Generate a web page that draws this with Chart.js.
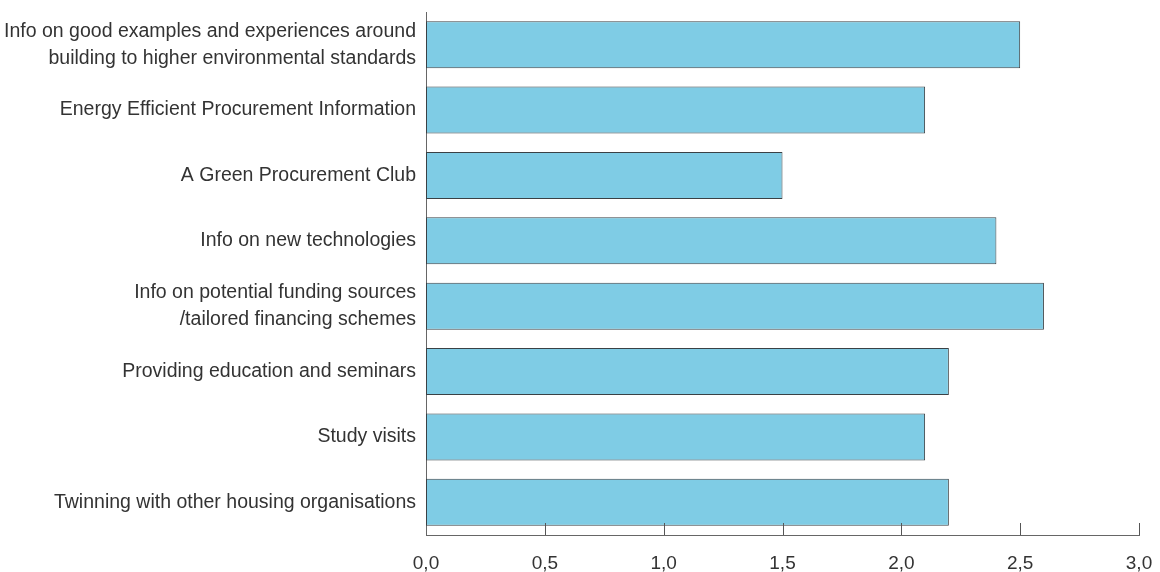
<!DOCTYPE html>
<html lang="en">
<head>
    <meta charset="UTF-8">
    <title>Support measures</title>
    <script src="https://cdn.jsdelivr.net/npm/chart.js@4.4.1/dist/chart.umd.min.js"></script>
    <style>
        html, body { margin: 0; padding: 0; background: #fff; }
        #wrap { width: 1160px; height: 572px; }
    </style>
</head>
<body>
<div id="wrap">
    <canvas id="bars"></canvas>
</div>
<script>
    // data
    var categories = [
        ["Info on good examples and experiences around", "building to higher environmental standards"],
        "Energy Efficient Procurement Information",
        "A Green Procurement Club",
        "Info on new technologies",
        ["Info on potential funding sources", "/tailored financing schemes"],
        "Providing education and seminars",
        "Study visits",
        "Twinning with other housing organisations"
    ];
    var scores = [2.5, 2.1, 1.5, 2.4, 2.6, 2.2, 2.1, 2.2];
    var xTicks = [0, 0.5, 1, 1.5, 2, 2.5, 3];

    // tick marks pointing up into the plot, like the original
    var innerTicks = {
        id: 'innerTicks',
        afterDraw: function(chart) {
            var ctx = chart.ctx;
            var x = chart.scales.x;
            var bottom = chart.chartArea.bottom;
            ctx.save();
            ctx.strokeStyle = '#555';
            ctx.lineWidth = 1;
            xTicks.forEach(function(v) {
                if (v === 0) return;
                var px = Math.round(x.getPixelForValue(v)) + 0.5;
                ctx.beginPath();
                ctx.moveTo(px, bottom);
                ctx.lineTo(px, bottom - 12);
                ctx.stroke();
            });
            ctx.restore();
        }
    };

    var ctx = document.getElementById('bars').getContext('2d');
    new Chart(ctx, {
        type: 'bar',
        data: {
            labels: categories,
            datasets: [{
                data: scores,
                backgroundColor: '#7fcce5',
                borderColor: '#3a4145',
                borderWidth: 1,
                borderSkipped: false,
                categoryPercentage: 1,
                barPercentage: 0.72
            }]
        },
        options: {
            indexAxis: 'y',
            responsive: true,
            maintainAspectRatio: false,
            animation: false,
            layout: { padding: { top: 12, right: 21, left: 0, bottom: 0 } },
            plugins: {
                legend: { display: false },
                tooltip: { enabled: false }
            },
            scales: {
                x: {
                    min: 0,
                    max: 3,
                    afterBuildTicks: function(scale) {
                        scale.ticks = xTicks.map(function(v) { return { value: v }; });
                    },
                    afterFit: function(scale) {
                        scale.height = 37;
                        scale.paddingLeft = 0;
                        scale.paddingRight = 0;
                    },
                    grid: { display: false },
                    border: { display: true, color: '#666', width: 1 },
                    ticks: {
                        color: '#333',
                        padding: 9,
                        maxRotation: 0,
                        font: { family: 'Liberation Sans', size: 19 },
                        callback: function(v) { return Number(v).toFixed(1).replace('.', ','); }
                    }
                },
                y: {
                    afterFit: function(scale) {
                        scale.width = 426;
                        scale.paddingTop = 0;
                        scale.paddingBottom = 0;
                    },
                    grid: { display: false, drawTicks: false },
                    border: { display: true, color: '#666', width: 1 },
                    ticks: {
                        color: '#333',
                        padding: 10,
                        font: { family: 'Liberation Sans', size: 19.5, lineHeight: 1.38 }
                    }
                }
            }
        },
        plugins: [innerTicks]
    });
</script>
</body>
</html>
